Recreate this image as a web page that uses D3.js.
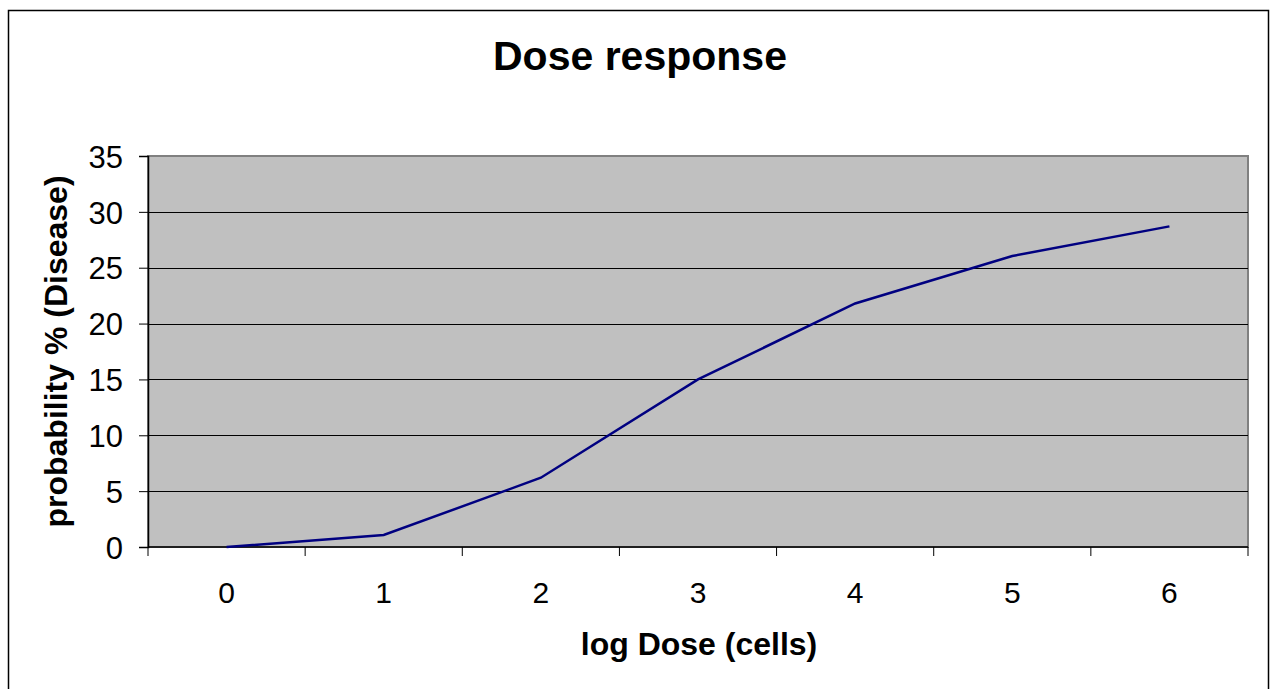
<!DOCTYPE html>
<html>
<head>
<meta charset="utf-8">
<script src="https://cdn.jsdelivr.net/npm/d3@7"></script>
<style>
  body { margin: 0; background: #fff; }
  text { font-family: Arial, "Liberation Sans", sans-serif; }
</style>
</head>
<body>
<div id="graph"></div>
<script>
// data
var doses = ["0", "1", "2", "3", "4", "5", "6"];
var probability = [0, 1.07, 6.2, 15.0, 21.8, 26.05, 28.7];
var yTicks = [0, 5, 10, 15, 20, 25, 30, 35];

var W = 1273, H = 689;
var margin = {top: 156, right: 25, bottom: 142, left: 148},
    width = W - margin.left - margin.right,
    height = H - margin.top - margin.bottom;

var svg = d3.select("#graph").append("svg")
    .attr("width", W)
    .attr("height", H);

// outer chart border
svg.append("rect")
    .attr("x", 8.5).attr("y", 10.5)
    .attr("width", 1260).attr("height", 700)
    .style("fill", "none")
    .style("stroke", "#000")
    .style("stroke-width", 1.5);

// title
svg.append("text")
    .attr("x", 640).attr("y", 70)
    .attr("text-anchor", "middle")
    .style("font-size", "41px")
    .style("font-weight", "bold")
    .text("Dose response");

var g = svg.append("g")
    .attr("transform", "translate(" + margin.left + "," + margin.top + ")");

var x = d3.scaleBand().domain(doses).range([0, width]);
var y = d3.scaleLinear().domain([0, 35]).range([height, 0]);

// plot area
g.append("rect")
    .attr("width", width)
    .attr("height", height)
    .style("fill", "#c0c0c0")
    .style("stroke", "#808080")
    .style("stroke-width", 2);

// grid lines
g.selectAll(".grid")
    .data(yTicks.filter(function(d) { return d > 0 && d < 35; }))
  .enter().append("line")
    .attr("x1", 0).attr("x2", width)
    .attr("y1", function(d) { return Math.round(y(d)) + 0.5; })
    .attr("y2", function(d) { return Math.round(y(d)) + 0.5; })
    .style("stroke", "#000")
    .style("stroke-width", 1);

// y axis
var yAxis = g.append("g")
    .call(d3.axisLeft(y).tickValues(yTicks).tickSize(9).tickPadding(16));
yAxis.select(".domain").style("stroke", "#000").style("stroke-width", 1.5);
yAxis.selectAll("text")
    .style("font-size", "31px")
    .style("fill", "#000")
    .attr("dy", "0.36em");

// x axis: ticks on band boundaries
var xAxis = g.append("g")
    .attr("transform", "translate(0," + height + ")");
xAxis.append("line")
    .attr("x1", 0).attr("x2", width)
    .style("stroke", "#000").style("stroke-width", 1.5);
xAxis.selectAll(".tick")
    .data(doses.concat(["end"]))
  .enter().append("line")
    .attr("x1", function(d, i) { return i < doses.length ? x(d) : width; })
    .attr("x2", function(d, i) { return i < doses.length ? x(d) : width; })
    .attr("y1", 0).attr("y2", 9)
    .style("stroke", "#000");
xAxis.selectAll(".lbl")
    .data(doses)
  .enter().append("text")
    .attr("x", function(d) { return x(d) + x.bandwidth() / 2; })
    .attr("y", 56)
    .attr("text-anchor", "middle")
    .style("font-size", "30px")
    .text(function(d) { return d; });

// the line
var valueline = d3.line()
    .x(function(d, i) { return x(doses[i]) + x.bandwidth() / 2; })
    .y(function(d) { return y(d); });

g.append("path")
    .datum(probability)
    .attr("d", valueline)
    .style("fill", "none")
    .style("stroke", "#000080")
    .style("stroke-width", 2.5);

// axis titles
svg.append("text")
    .attr("x", 699).attr("y", 655)
    .attr("text-anchor", "middle")
    .style("font-size", "32px")
    .style("font-weight", "bold")
    .text("log Dose (cells)");

svg.append("text")
    .attr("transform", "translate(67," + (margin.top + height / 2) + ") rotate(-90)")
    .attr("text-anchor", "middle")
    .style("font-size", "32px")
    .style("font-weight", "bold")
    .text("probability % (Disease)");
</script>
</body>
</html>
